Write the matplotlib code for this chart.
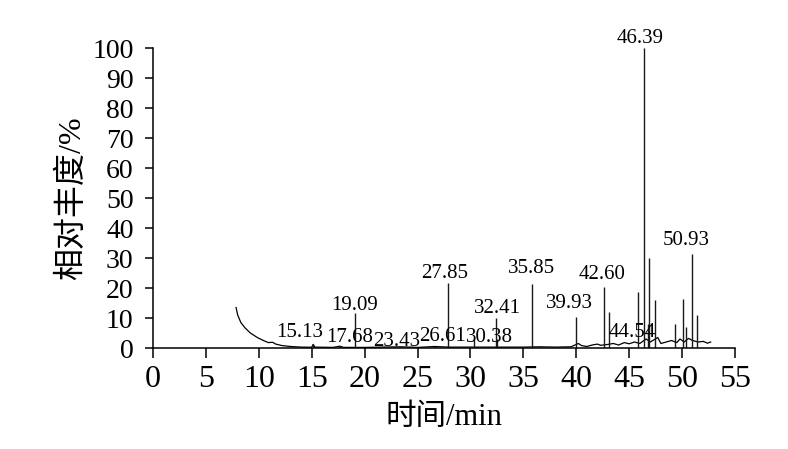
import matplotlib
matplotlib.use("Agg")
import matplotlib.pyplot as plt

# baseline trace (time in min, relative abundance %)
base_t = [7.85, 8.0, 8.3, 8.7, 9.2, 9.9, 10.5, 10.9, 11.3, 11.6, 12.2, 13.0, 14.0, 15.0,
          15.13, 15.3, 17.0, 17.68, 18.0, 20.0, 23.43, 25.0, 26.61, 28.0, 30.0, 31.0,
          33.0, 35.0, 36.5, 38.0, 39.5, 40.2, 40.5, 41.0, 41.5, 42.0, 42.3, 43.0, 43.5,
          44.0, 44.54, 45.0, 45.5, 46.0, 46.6, 47.0, 47.7, 48.0, 48.5, 49.0, 49.5, 49.8,
          50.2, 50.6, 51.0, 51.5, 52.0, 52.4, 52.7]
base_v = [13.5, 11.0, 8.5, 6.7, 5.0, 3.4, 2.4, 1.8, 1.9, 1.3, 0.8, 0.5, 0.3, 0.25,
          1.2, 0.3, 0.2, 0.6, 0.2, 0.2, 0.4, 0.2, 0.5, 0.3, 0.3, 0.3,
          0.3, 0.3, 0.4, 0.3, 0.4, 1.5, 0.8, 0.5, 1.0, 1.3, 0.9, 1.2, 1.5,
          1.0, 1.8, 1.4, 2.0, 1.5, 3.0, 2.0, 3.5, 1.5, 2.0, 2.5, 1.8, 3.0,
          2.0, 3.2, 2.5, 2.0, 2.2, 1.6, 2.0]

# peaks
peak_t = [15.13, 17.68, 19.09, 23.43, 26.61, 27.85, 30.38, 32.41, 32.55, 35.85, 39.93,
          42.60, 43.10, 45.87, 46.39, 46.75, 46.90, 47.45, 49.30, 50.10, 50.35, 50.93, 51.40]
peak_h = [1.5, 0.8, 11.7, 0.5, 0.8, 21.7, 3.0, 10.0, 3.0, 21.5, 10.5,
          20.5, 12.0, 18.8, 100.0, 8.0, 30.0, 16.0, 8.0, 16.3, 7.0, 31.5, 11.0]

# peak labels and their positions (time, abundance at text baseline)
lab_text = ["46.39", "27.85", "35.85", "19.09", "32.41", "39.93", "42.60", "50.93",
            "15.13", "17.68", "23.43", "26.61", "30.38", "44.54"]
lab_x = [46.03, 27.55, 35.73, 19.09, 32.51, 39.37, 42.44, 50.38,
         13.89, 18.62, 23.06, 27.32, 31.76, 45.27]
lab_y = [101.7, 23.3, 25.0, 12.7, 11.7, 13.3, 23.0, 34.3,
         3.7, 2.0, 0.7, 2.3, 2.0, 3.7]

x_ticks = list(range(0, 56, 5))
y_ticks = list(range(0, 101, 10))

serif = ["Liberation Serif", "Noto Sans CJK SC"]
plt.rcParams["font.family"] = serif

fig = plt.figure(figsize=(7.88, 4.49), dpi=100)
ax = fig.add_axes([153 / 788, 1 - 348 / 449, 582 / 788, 300 / 449])

ax.plot(base_t, base_v, color="black", lw=0.9)
ax.vlines(peak_t, 0, peak_h, color="#1a1a1a", lw=1.0)

for t, x, y in zip(lab_text, lab_x, lab_y):
    ax.text(x, y, t, ha="center", va="baseline", fontsize=15, family=serif)

ax.set_xlim(0, 55)
ax.set_ylim(0, 100)
ax.set_xticks(x_ticks)
ax.set_yticks(y_ticks)
ax.tick_params(axis="x", direction="out", length=7, width=1.1, labelsize=23, pad=5)
ax.tick_params(axis="y", direction="out", length=6, width=1.1, labelsize=20, pad=8)
for s in ["top", "right"]:
    ax.spines[s].set_visible(False)
for s in ["left", "bottom"]:
    ax.spines[s].set_linewidth(1.1)
    ax.spines[s].set_clip_on(False)

ax.set_xlabel("时间/min", fontsize=22, family=serif, labelpad=7)
ax.set_ylabel("相对丰度/%", fontsize=23, family=serif, labelpad=4)

fig.savefig("out.png", dpi=100)
